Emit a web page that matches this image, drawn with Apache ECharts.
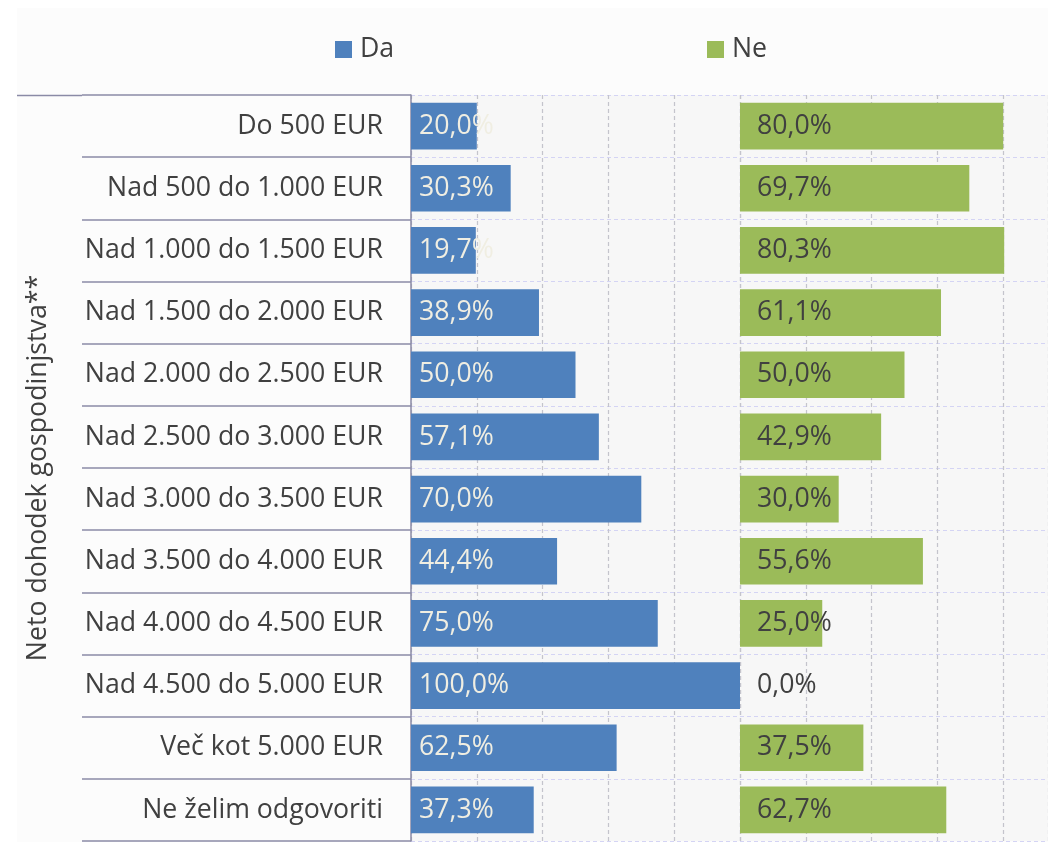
<!DOCTYPE html>
<html>
<head>
<meta charset="utf-8">
<script src="https://cdn.jsdelivr.net/npm/echarts@6/dist/echarts.min.js"></script>
<style>
  html, body { margin: 0; padding: 0; background: #ffffff; }
  #chart { width: 1048px; height: 842px; }
</style>
</head>
<body>
<div id="chart"></div>
<script>
// kategorije od zgoraj navzdol
var categories = [
  "Do 500 EUR",
  "Nad 500 do 1.000 EUR",
  "Nad 1.000 do 1.500 EUR",
  "Nad 1.500 do 2.000 EUR",
  "Nad 2.000 do 2.500 EUR",
  "Nad 2.500 do 3.000 EUR",
  "Nad 3.000 do 3.500 EUR",
  "Nad 3.500 do 4.000 EUR",
  "Nad 4.000 do 4.500 EUR",
  "Nad 4.500 do 5.000 EUR",
  "Več kot 5.000 EUR",
  "Ne želim odgovoriti"
];
var daValues = [20.0, 30.3, 19.7, 38.9, 50.0, 57.1, 70.0, 44.4, 75.0, 100.0, 62.5, 37.3];
var neValues = [80.0, 69.7, 80.3, 61.1, 50.0, 42.9, 30.0, 55.6, 25.0, 0.0, 37.5, 62.7];
var axisName = "Neto dohodek gospodinjstva**";

var font = "'Open Sans', 'Noto Sans', sans-serif";
var fs = 26.7;

function pct(p) {
  return p.value.toFixed(1).replace(".", ",") + "%";
}

// desna plošča je v izvirniku odrezana na robu slike (100 % bi bilo pri x=1069)
var panelW = 329;
var rightVisible = 1048 - 740;
var neMax = 100 * rightVisible / panelW;

var legendText = { fontFamily: font, fontSize: fs, color: "#404040", padding: [0, 0, 0, 3] };

var myChart = echarts.init(document.getElementById("chart"));

myChart.setOption({
  backgroundColor: "#ffffff",
  animation: false,
  graphic: [
    {
      type: "rect",
      z: -10,
      silent: true,
      shape: { x: 17, y: 8, width: 1031, height: 834 },
      style: { fill: "#fcfcfc", stroke: null }
    },
    {
      // gornja črta nad oznakami
      type: "line",
      z: 5,
      shape: { x1: 17, y1: 95.5, x2: 82, y2: 95.5 },
      style: { stroke: "#8a8aa6", lineWidth: 1.5 }
    },
    {
      // ime osi (navpično)
      type: "text",
      x: 38,
      y: 468,
      rotation: Math.PI / 2,
      style: {
        text: axisName,
        fontFamily: font,
        fontSize: fs,
        fill: "#404040",
        align: "center",
        verticalAlign: "middle"
      }
    }
  ],
  legend: [
    {
      left: 335,
      top: 36,
      padding: 0,
      itemWidth: 17,
      itemHeight: 17,
      icon: "rect",
      textStyle: legendText,
      data: ["Da"]
    },
    {
      left: 707,
      top: 36,
      padding: 0,
      itemWidth: 17,
      itemHeight: 17,
      icon: "rect",
      textStyle: legendText,
      data: ["Ne"]
    }
  ],
  grid: [
    { left: 411, top: 95, width: panelW, height: 746, show: true, backgroundColor: "#f7f7f7", borderWidth: 0 },
    { left: 740, top: 95, width: rightVisible, height: 746, show: true, backgroundColor: "#f7f7f7", borderWidth: 0 }
  ],
  xAxis: [
    {
      gridIndex: 0,
      type: "value",
      min: 0,
      max: 100,
      interval: 20,
      axisLine: { show: false },
      axisTick: { show: false },
      axisLabel: { show: false },
      splitLine: { lineStyle: { color: "#c4c4cc", type: [4, 3], width: 1.2 } }
    },
    {
      gridIndex: 1,
      type: "value",
      min: 0,
      max: neMax,
      interval: 20,
      axisLine: { show: false },
      axisTick: { show: false },
      axisLabel: { show: false },
      splitLine: { lineStyle: { color: "#c4c4cc", type: [4, 3], width: 1.2 } }
    }
  ],
  yAxis: [
    {
      gridIndex: 0,
      type: "category",
      inverse: true,
      data: categories,
      axisLine: { show: true, lineStyle: { color: "#8a8aa6", width: 1.5 } },
      // ločilne črte pod oznakami kategorij
      axisTick: { show: true, interval: 0, length: 329, lineStyle: { color: "#8a8aa6", width: 1.5 } },
      axisLabel: { margin: 28, fontFamily: font, fontSize: fs, color: "#404040" },
      splitLine: { show: true, lineStyle: { color: "#d4d4f4", type: [4, 3], width: 1.2 } }
    },
    {
      gridIndex: 1,
      type: "category",
      inverse: true,
      data: categories,
      axisLine: { show: false },
      axisTick: { show: false },
      axisLabel: { show: false },
      splitLine: { show: true, lineStyle: { color: "#d4d4f4", type: [4, 3], width: 1.2 } }
    }
  ],
  series: [
    {
      name: "Da",
      type: "bar",
      xAxisIndex: 0,
      yAxisIndex: 0,
      barCategoryGap: "25%",
      data: daValues,
      itemStyle: { color: "#4f81bd" },
      label: {
        show: true,
        position: "insideLeft",
        distance: 8,
        formatter: pct,
        fontFamily: font,
        fontSize: fs,
        color: "#f0eee2"
      }
    },
    {
      name: "Ne",
      type: "bar",
      xAxisIndex: 1,
      yAxisIndex: 1,
      barCategoryGap: "25%",
      data: neValues,
      itemStyle: { color: "#9bbb59" },
      label: {
        show: true,
        position: "insideLeft",
        distance: 17,
        formatter: pct,
        fontFamily: font,
        fontSize: fs,
        color: "#404040"
      }
    }
  ]
});
</script>
</body>
</html>
